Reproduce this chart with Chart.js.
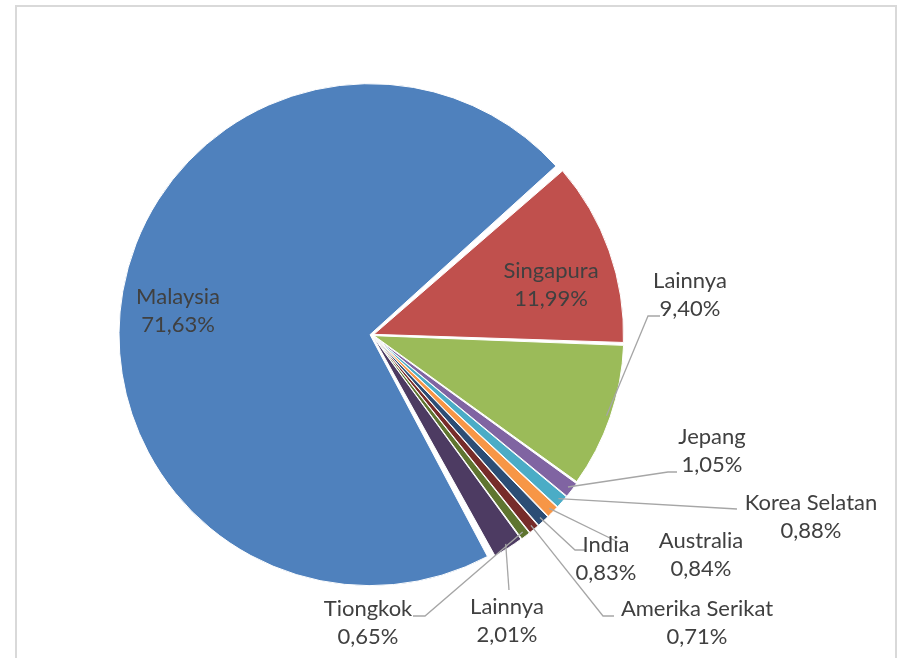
<!DOCTYPE html>
<html>
<head>
<meta charset="utf-8">
<script src="https://cdn.jsdelivr.net/npm/chart.js@4.4.1/dist/chart.umd.min.js"></script>
<style>
  html, body { margin: 0; padding: 0; background: #ffffff; }
  #wrap { width: 901px; height: 658px; position: relative; }
</style>
</head>
<body>
<div id="wrap"><canvas id="pie" width="901" height="658"></canvas></div>
<script>
// data (percent)
let categories = ["Malaysia", "Singapura", "Lainnya", "Jepang", "Korea Selatan",
  "Australia", "India", "Amerika Serikat", "Tiongkok", "Lainnya"];
let values = [71.63, 11.99, 9.40, 1.05, 0.88, 0.84, 0.83, 0.71, 0.65, 2.01];
let valueLabels = ["71,63%", "11,99%", "9,40%", "1,05%", "0,88%",
  "0,84%", "0,83%", "0,71%", "0,65%", "2,01%"];

let colors = ["#4F81BD", "#C0504D", "#9BBB59", "#8064A2", "#4BACC6",
  "#F79646", "#2C4D75", "#772C2A", "#5F7530", "#4D3B62"];

// where each label sits, and the bends of its leader line (null = label inside slice)
let labelPlace = [
  { x: 178, y: 297, bends: null },
  { x: 551, y: 271, bends: null },
  { x: 690, y: 281, bends: [[648, 316], [660, 316]] },
  { x: 712, y: 437, bends: [[668, 472], [677, 472]] },
  { x: 811, y: 503, bends: [[737, 509]] },
  { x: 701, y: 541, bends: [[618, 542]] },
  { x: 606, y: 545, bends: [[575, 550], [586, 550]] },
  { x: 697, y: 609, bends: [[603, 616], [614, 616]] },
  { x: 368, y: 609, bends: [[425, 616], [413, 616]] },
  { x: 507, y: 607, bends: [[509, 590]] }
];

let framePlugin = {
  id: "frame",
  beforeDraw: function (chart) {
    let ctx = chart.ctx;
    ctx.save();
    ctx.fillStyle = "#ffffff";
    ctx.fillRect(0, 0, chart.width, chart.height);
    ctx.strokeStyle = "#D9D9D9";
    ctx.lineWidth = 2;
    ctx.strokeRect(16, 6, 880, 670);
    ctx.restore();
  }
};

let labelPlugin = {
  id: "pieLabels",
  afterDatasetsDraw: function (chart) {
    let ctx = chart.ctx;
    let arcs = chart.getDatasetMeta(0).data;
    ctx.save();
    ctx.font = "22px Lato";
    ctx.textAlign = "center";
    ctx.textBaseline = "middle";
    arcs.forEach(function (arc, i) {
      let place = labelPlace[i];
      if (place.bends) {
        let mid = (arc.startAngle + arc.endAngle) / 2;
        let r = arc.outerRadius;
        ctx.strokeStyle = "#A6A6A6";
        ctx.lineWidth = 1.3;
        ctx.beginPath();
        ctx.moveTo(arc.x + Math.cos(mid) * r, arc.y + Math.sin(mid) * r);
        place.bends.forEach(function (p) {
          ctx.lineTo(p[0], p[1]);
        });
        ctx.stroke();
      }
      ctx.fillStyle = "#404040";
      ctx.fillText(categories[i], place.x, place.y);
      ctx.fillText(valueLabels[i], place.x, place.y + 28);
    });
    ctx.restore();
  }
};

new Chart(document.getElementById("pie"), {
  type: "pie",
  data: {
    labels: categories,
    datasets: [
      {
        data: values,
        backgroundColor: colors,
        borderColor: "#ffffff",
        borderWidth: 1,
        spacing: 2,
        offset: 8,
      },
    ],
  },
  options: {
    responsive: false,
    animation: false,
    events: [],
    rotation: 151,
    radius: 248,
    layout: { padding: { left: 0, right: 157, top: 12, bottom: 0 } },
    plugins: {
      legend: { display: false },
      tooltip: { enabled: false },
    },
  },
  plugins: [framePlugin, labelPlugin],
});
</script>
</body>
</html>
